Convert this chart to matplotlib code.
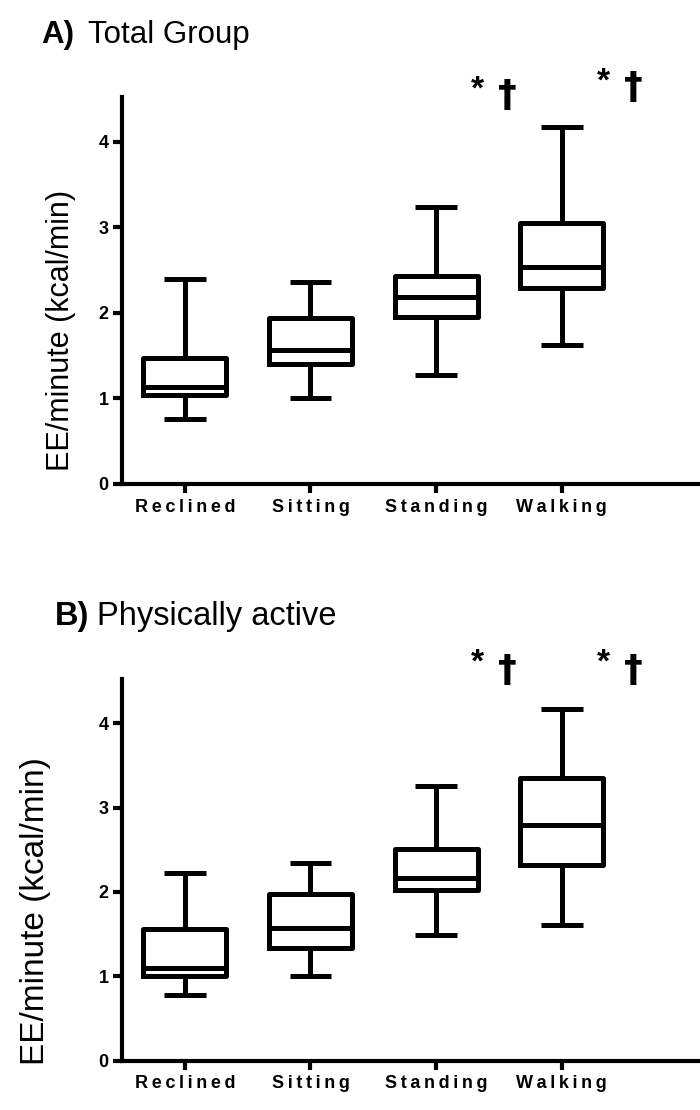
import matplotlib
matplotlib.use("Agg")
import matplotlib.pyplot as plt

plt.rcParams['font.family'] = ['Liberation Sans', 'DejaVu Sans']

categories = ["Reclined", "Sitting", "Standing", "Walking"]

# Panel A: Total Group
a_whislo = [0.76, 1.00, 1.27, 1.62]
a_q1     = [1.04, 1.40, 1.95, 2.29]
a_med    = [1.13, 1.56, 2.19, 2.54]
a_q3     = [1.47, 1.94, 2.43, 3.05]
a_whishi = [2.40, 2.36, 3.24, 4.17]

# Panel B: Physically active
b_whislo = [0.78, 1.00, 1.49, 1.61]
b_q1     = [1.00, 1.34, 2.02, 2.32]
b_med    = [1.10, 1.57, 2.16, 2.79]
b_q3     = [1.56, 1.97, 2.51, 3.35]
b_whishi = [2.23, 2.34, 3.25, 4.17]

sig_categories = ["Standing", "Walking"]
sig_a_star_y = [4.60, 4.70]
sig_a_dag_y = [4.53, 4.63]
sig_b_star_y = [4.71, 4.71]
sig_b_dag_y = [4.62, 4.62]

yticks = [0, 1, 2, 3, 4]
LW = 3.6


def spaced(s):
    return "\u2009".join(list(s))


def draw_panel(ax, lo, q1, med, q3, hi, star_y, dag_y):
    stats = []
    for i, c in enumerate(categories):
        stats.append(dict(label=c, whislo=lo[i], q1=q1[i], med=med[i],
                          q3=q3[i], whishi=hi[i], fliers=[]))
    pos = list(range(len(categories)))
    ax.bxp(stats, positions=pos, widths=0.66, capwidths=0.33,
           showfliers=False, patch_artist=False,
           boxprops=dict(color='black', linewidth=LW),
           medianprops=dict(color='black', linewidth=LW, solid_capstyle='butt'),
           whiskerprops=dict(color='black', linewidth=LW, solid_capstyle='butt'),
           capprops=dict(color='black', linewidth=LW, solid_capstyle='butt'))
    ax.set_xlim(-0.5, 4.1)
    ax.set_ylim(0, 4.52)
    ax.set_yticks(yticks)
    ax.set_yticklabels([str(t) for t in yticks], fontweight='bold', fontsize=13)
    ax.set_xticks(pos)
    ax.set_xticklabels([spaced(c) for c in categories], fontweight='bold', fontsize=13)
    for s in ['top', 'right']:
        ax.spines[s].set_visible(False)
    for s in ['left', 'bottom']:
        ax.spines[s].set_linewidth(3)
    ax.tick_params(axis='both', width=3, length=6.5, direction='out')
    ax.tick_params(axis='y', pad=3)
    ax.tick_params(axis='x', pad=4)
    for j, c in enumerate(sig_categories):
        xi = categories.index(c)
        ax.text(xi + 0.33, star_y[j], "*", ha='center', va='center',
                fontsize=24, fontweight='bold', clip_on=False)
        ax.text(xi + 0.57, dag_y[j], "\u2020", ha='center', va='center',
                fontsize=27, fontweight='bold', family='DejaVu Sans', clip_on=False)


fig = plt.figure(figsize=(7, 11.1), dpi=100)
ax1 = fig.add_axes([0.1743, 0.564, 0.8257, 0.3484])
ax2 = fig.add_axes([0.1743, 0.0444, 0.8257, 0.3436])

draw_panel(ax1, a_whislo, a_q1, a_med, a_q3, a_whishi, sig_a_star_y, sig_a_dag_y)
draw_panel(ax2, b_whislo, b_q1, b_med, b_q3, b_whishi, sig_b_star_y, sig_b_dag_y)

# Titles
fig.text(41.7 / 700, 1 - 43 / 1110, "A)", fontsize=22.5, fontweight='bold', va='baseline')
fig.text(88 / 700, 1 - 43 / 1110, "Total Group", fontsize=22.5, va='baseline')
fig.text(55 / 700, 1 - 625 / 1110, "B)", fontsize=23.5, fontweight='bold', va='baseline')
fig.text(97 / 700, 1 - 625 / 1110, "Physically active", fontsize=23.5, va='baseline')

# Y labels
fig.text(61 / 700, 1 - 330 / 1110, "EE/minute (kcal/min)", rotation=90,
         ha='center', va='center', fontsize=22)
fig.text(36 / 700, 1 - 911 / 1110, "EE/minute (kcal/min)", rotation=90,
         ha='center', va='center', fontsize=24)

fig.savefig("out.png", dpi=100)
